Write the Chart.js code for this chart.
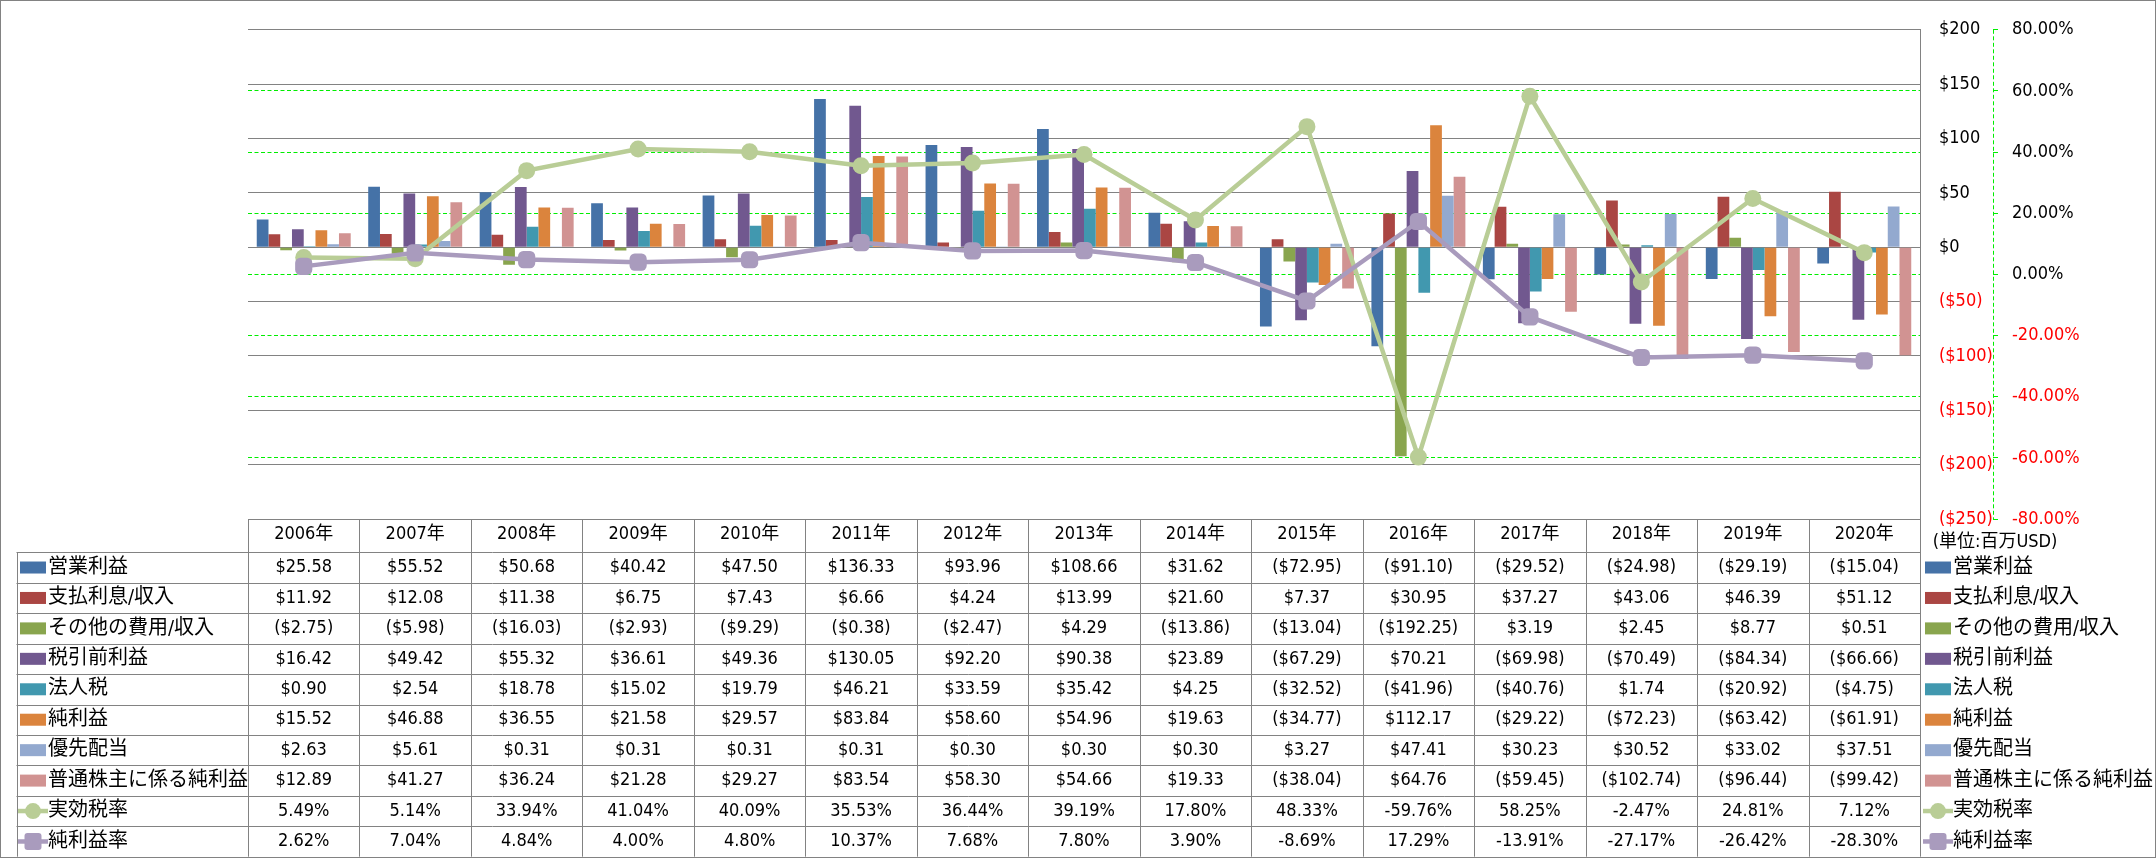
<!DOCTYPE html>
<html>
<head>
<meta charset="utf-8">
<script src="https://cdn.jsdelivr.net/npm/chart.js@4/dist/chart.umd.min.js"></script>
<style>
  html, body { margin: 0; padding: 0; background: #fff; }
  #wrap { width: 2156px; height: 858px; }
</style>
</head>
<body>
<div id="wrap"><canvas id="c" width="2156" height="858"></canvas></div>
<script>
// categories and series (百万USD / %)
const years = ['2006年','2007年','2008年','2009年','2010年','2011年','2012年','2013年','2014年','2015年','2016年','2017年','2018年','2019年','2020年'];

const operatingIncome = [25.58, 55.52, 50.68, 40.42, 47.50, 136.33, 93.96, 108.66, 31.62, -72.95, -91.10, -29.52, -24.98, -29.19, -15.04];
const interest = [11.92, 12.08, 11.38, 6.75, 7.43, 6.66, 4.24, 13.99, 21.60, 7.37, 30.95, 37.27, 43.06, 46.39, 51.12];
const otherItems = [-2.75, -5.98, -16.03, -2.93, -9.29, -0.38, -2.47, 4.29, -13.86, -13.04, -192.25, 3.19, 2.45, 8.77, 0.51];
const pretaxIncome = [16.42, 49.42, 55.32, 36.61, 49.36, 130.05, 92.20, 90.38, 23.89, -67.29, 70.21, -69.98, -70.49, -84.34, -66.66];
const incomeTax = [0.90, 2.54, 18.78, 15.02, 19.79, 46.21, 33.59, 35.42, 4.25, -32.52, -41.96, -40.76, 1.74, -20.92, -4.75];
const netIncome = [15.52, 46.88, 36.55, 21.58, 29.57, 83.84, 58.60, 54.96, 19.63, -34.77, 112.17, -29.22, -72.23, -63.42, -61.91];
const preferredDiv = [2.63, 5.61, 0.31, 0.31, 0.31, 0.31, 0.30, 0.30, 0.30, 3.27, 47.41, 30.23, 30.52, 33.02, 37.51];
const commonNetIncome = [12.89, 41.27, 36.24, 21.28, 29.27, 83.54, 58.30, 54.66, 19.33, -38.04, 64.76, -59.45, -102.74, -96.44, -99.42];
const effectiveTaxRate = [5.49, 5.14, 33.94, 41.04, 40.09, 35.53, 36.44, 39.19, 17.80, 48.33, -59.76, 58.25, -2.47, 24.81, 7.12];
const netMargin = [2.62, 7.04, 4.84, 4.00, 4.80, 10.37, 7.68, 7.80, 3.90, -8.69, 17.29, -13.91, -27.17, -26.42, -28.30];

// axis ranges
const usdMin = -250, usdMax = 200, usdStep = 50;
const pctMin = -80, pctMax = 80, pctStep = 20;
const unitLabel = '(単位:百万USD)';

const FONT = "'DejaVu Sans Condensed', 'Noto Sans CJK JP', sans-serif";
const FONT_SIZE = 18;
const LABEL_SIZE = 20;
const GRID_GRAY = '#828282';
const GREEN_DASH = '#00ee00';

const barSeries = [
  { label: '営業利益', data: operatingIncome, color: '#4572A7' },
  { label: '支払利息/収入', data: interest, color: '#AA4643' },
  { label: 'その他の費用/収入', data: otherItems, color: '#89A54E' },
  { label: '税引前利益', data: pretaxIncome, color: '#71588F' },
  { label: '法人税', data: incomeTax, color: '#4198AF' },
  { label: '純利益', data: netIncome, color: '#DB843D' },
  { label: '優先配当', data: preferredDiv, color: '#93A9CF' },
  { label: '普通株主に係る純利益', data: commonNetIncome, color: '#D19392' }
];
const lineSeries = [
  { label: '実効税率', data: effectiveTaxRate, color: '#B9CD96', style: 'circle', order: 1 },
  { label: '純利益率', data: netMargin, color: '#A99BBD', style: 'rectRounded', order: 0 }
];

function fmtUsd(v) {
  return v < 0 ? '($' + Math.abs(v).toFixed(2) + ')' : '$' + v.toFixed(2);
}
function fmtPct(v) {
  return v.toFixed(2) + '%';
}

// small marker for the legend cells
function drawMarker(ctx, style, x, y, color) {
  ctx.save();
  ctx.fillStyle = color;
  ctx.beginPath();
  if (style === 'circle') {
    ctx.arc(x, y, 8, 0, Math.PI * 2);
  } else {
    const s = 8.5, r = 3;
    ctx.moveTo(x - s + r, y - s);
    ctx.arcTo(x + s, y - s, x + s, y + s, r);
    ctx.arcTo(x + s, y + s, x - s, y + s, r);
    ctx.arcTo(x - s, y + s, x - s, y - s, r);
    ctx.arcTo(x - s, y - s, x + s, y - s, r);
    ctx.closePath();
  }
  ctx.fill();
  ctx.restore();
}

// data table under the plot plus legend keys on both sides
const dataTable = {
  id: 'dataTable',
  afterDraw(chart) {
    const ctx = chart.ctx;
    const x = chart.scales.x;
    const y1 = chart.scales.y1;
    const area = chart.chartArea;
    const n = years.length;
    const colW = x.width / n;
    const top = area.bottom;
    const headerH = 33.3;
    const rowH = 30.44;
    const tableLeft = 16.5;
    const rows = barSeries.length + lineSeries.length;
    const bottom = top + headerH + rowH * rows;

    ctx.save();
    // dashed secondary axis line
    ctx.strokeStyle = GREEN_DASH;
    ctx.lineWidth = 1;
    ctx.setLineDash([4, 2.5]);
    ctx.beginPath();
    ctx.moveTo(Math.round(y1.left) + 0.5, area.top);
    ctx.lineTo(Math.round(y1.left) + 0.5, area.bottom);
    ctx.stroke();
    ctx.setLineDash([]);

    ctx.strokeStyle = GRID_GRAY;
    ctx.beginPath();
    ctx.moveTo(x.left, Math.round(top) + 0.5);
    ctx.lineTo(x.right, Math.round(top) + 0.5);
    for (let r = 0; r <= rows; r++) {
      const y = Math.round(top + headerH + r * rowH) + 0.5;
      ctx.moveTo(tableLeft, y);
      ctx.lineTo(x.right, y);
    }
    for (let c = 0; c <= n; c++) {
      const xx = Math.round(x.left + c * colW) + 0.5;
      ctx.moveTo(xx, top);
      ctx.lineTo(xx, bottom);
    }
    ctx.moveTo(Math.round(tableLeft) + 0.5, top + headerH);
    ctx.lineTo(Math.round(tableLeft) + 0.5, bottom);
    ctx.stroke();

    ctx.font = FONT_SIZE + 'px ' + FONT;
    ctx.fillStyle = '#000';
    ctx.textBaseline = 'middle';
    ctx.textAlign = 'center';
    years.forEach((yr, i) => {
      ctx.fillText(yr, x.getPixelForTick(i), top + headerH / 2 - 1);
    });

    const allRows = barSeries.map(s => ({ s, kind: 'bar' })).concat(lineSeries.map(s => ({ s, kind: 'line' })));
    allRows.forEach((row, r) => {
      const cy = top + headerH + rowH * (r + 0.5);
      ctx.font = FONT_SIZE + 'px ' + FONT;
      ctx.textAlign = 'center';
      ctx.fillStyle = '#000';
      row.s.data.forEach((v, i) => {
        const txt = row.kind === 'bar' ? fmtUsd(v) : fmtPct(v);
        ctx.fillText(txt, x.getPixelForTick(i), cy);
      });
      // legend keys left and right
      ctx.font = LABEL_SIZE + 'px ' + FONT;
      [20, 1925].forEach(kx => {
        if (row.kind === 'bar') {
          ctx.fillStyle = row.s.color;
          ctx.fillRect(kx, cy - 6, 26, 12);
        } else {
          ctx.strokeStyle = row.s.color;
          ctx.lineWidth = 4.5;
          ctx.beginPath();
          ctx.moveTo(kx - 2, cy);
          ctx.lineTo(kx + 28, cy);
          ctx.stroke();
          drawMarker(ctx, row.s.style, kx + 13, cy, row.s.color);
        }
        ctx.fillStyle = '#000';
        ctx.textAlign = 'left';
        ctx.fillText(row.s.label, kx + 28, cy);
      });
    });

    ctx.font = FONT_SIZE + 'px ' + FONT;
    ctx.textAlign = 'center';
    ctx.fillStyle = '#000';
    ctx.fillText(unitLabel, 1995, top + 23);

    // outer border
    ctx.strokeStyle = GRID_GRAY;
    ctx.lineWidth = 1;
    ctx.strokeRect(0.5, 0.5, chart.width - 1, chart.height - 1);
    ctx.restore();
  }
};

const datasets = [];
lineSeries.forEach(s => {
  datasets.push({
    type: 'line',
    label: s.label,
    data: s.data,
    yAxisID: 'y1',
    borderColor: s.color,
    backgroundColor: s.color,
    borderWidth: 4.5,
    pointStyle: s.style,
    pointRadius: s.style === 'circle' ? 8.5 : 10,
    pointBorderWidth: 0,
    tension: 0,
    order: s.order
  });
});
barSeries.forEach(s => {
  datasets.push({
    type: 'bar',
    label: s.label,
    data: s.data,
    yAxisID: 'y',
    backgroundColor: s.color,
    categoryPercentage: 0.843,
    barPercentage: 1,
    order: 2
  });
});

const negRed = c => (c.tick && c.tick.value < 0 ? '#ff0000' : '#000');

new Chart(document.getElementById('c'), {
  data: { labels: years, datasets },
  plugins: [dataTable],
  options: {
    responsive: false,
    animation: false,
    layout: { padding: { left: 248, top: 13, right: 0, bottom: 339 } },
    plugins: { legend: { display: false }, tooltip: { enabled: false } },
    scales: {
      x: { display: false },
      y: {
        position: 'right',
        weight: 0,
        min: usdMin,
        max: usdMax,
        afterFit: s => { s.width = 73; },
        grid: { color: GRID_GRAY, lineWidth: 1, drawTicks: false },
        border: { display: true, color: GRID_GRAY, width: 1 },
        ticks: {
          stepSize: usdStep,
          padding: 19,
          font: { family: FONT, size: FONT_SIZE },
          color: negRed,
          callback: v => (v < 0 ? '($' + Math.abs(v) + ')' : '$' + v)
        }
      },
      y1: {
        position: 'right',
        weight: 1,
        min: pctMin,
        max: pctMax,
        afterFit: s => { s.width = 163; },
        grid: {
          color: c => (c.tick && Math.abs(c.tick.value) === pctMax ? 'rgba(0,0,0,0)' : GREEN_DASH),
          lineWidth: 1,
          tickLength: 5,
          tickColor: GREEN_DASH,
          drawOnChartArea: true
        },
        border: { display: false, dash: [4, 2.5] },
        ticks: {
          stepSize: pctStep,
          padding: 14,
          font: { family: FONT, size: FONT_SIZE },
          color: negRed,
          callback: v => v.toFixed(2) + '%'
        }
      }
    }
  }
});
</script>
</body>
</html>
